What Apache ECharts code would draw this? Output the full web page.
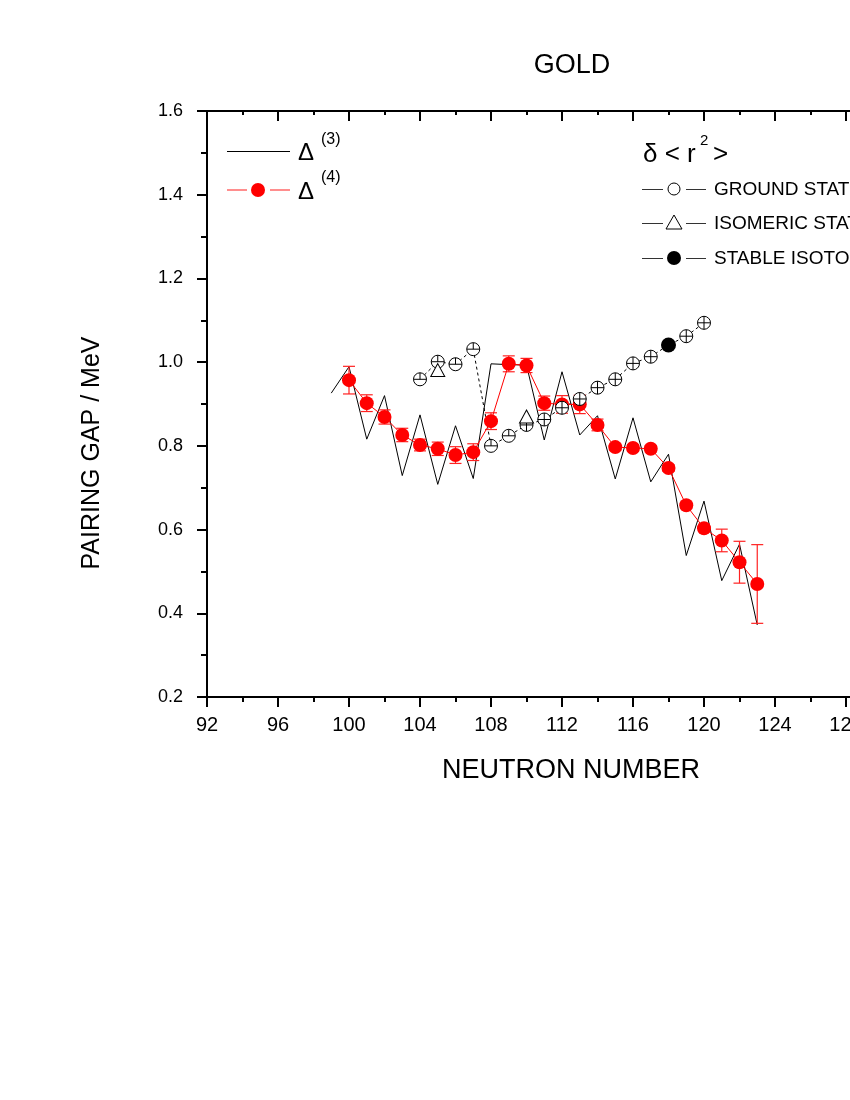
<!DOCTYPE html>
<html><head><meta charset="utf-8">
<script src="https://cdn.jsdelivr.net/npm/echarts@6/dist/echarts.min.js"></script>
<style>html,body{margin:0;padding:0;overflow:hidden;background:#fff;width:850px;height:1100px}#c{width:1000px;height:1100px}</style>
</head><body><div id="c"></div>
<script>
// ---- data ----
const delta3N = [99,100,101,102,103,104,105,106,107,108,109,110,111,112,113,114,115,116,117,118,119,120,121,122,123];
const delta3  = [0.926,0.989,0.816,0.920,0.729,0.874,0.708,0.848,0.722,0.996,0.994,0.993,0.814,0.977,0.826,0.872,0.721,0.867,0.714,0.780,0.538,0.668,0.478,0.565,0.372];
const delta4N = [100,101,102,103,104,105,106,107,108,109,110,111,112,113,114,115,116,117,118,119,120,121,122,123];
const delta4  = [0.957,0.902,0.869,0.826,0.802,0.793,0.778,0.785,0.859,0.996,0.992,0.902,0.899,0.899,0.850,0.797,0.795,0.793,0.747,0.658,0.603,0.574,0.522,0.470];
const delta4Err = [0.033,0.020,0.017,0.016,0.014,0.016,0.020,0.020,0.020,0.019,0.017,0.017,0.021,0.022,0.014,0.008,0.008,0.008,0.008,0.008,0.008,0.027,0.050,0.094];
const gsN   = [104,105,106,107,108,109,110,111,112,113,114,115,116,117,118,119,120];
const gsVal = [0.959,1.001,0.995,1.031,0.800,0.824,0.850,0.863,0.891,0.912,0.939,0.959,0.997,1.013,1.041,1.062,1.094];
const isoN   = [105,110];
const isoVal = [0.981,0.870];
const stableN   = [118];
const stableVal = [1.041];
const xTickMin = 92, xTickMax = 132, xTickStep = 4;
const yTickMin = 0.2, yTickMax = 1.6, yTickStep = 0.2;

const FONT = 'Liberation Sans, Arial, sans-serif';
const chart = echarts.init(document.getElementById('c'), null, {renderer:'canvas'});

const axisCommon = {
  type:'value', min:xTickMin, max:xTickMax, interval:xTickStep,
  axisLine:{show:true, onZero:false, lineStyle:{color:'#000', width:2}},
  splitLine:{show:false}, minorSplitLine:{show:false}
};

const gsMarkers = gsN.map((n,i)=>[n,gsVal[i]]).filter(d=>stableN.indexOf(d[0])<0);

const option = {
  animation:false,
  backgroundColor:'#fff',
  grid:{left:207, top:111, width:710, height:586, containLabel:false},
  xAxis:[
    Object.assign({}, axisCommon, {position:'bottom',
      axisTick:{show:true, inside:false, length:10, lineStyle:{color:'#000', width:2}},
      minorTick:{show:true, splitNumber:2, length:5, lineStyle:{color:'#000', width:2}},
      axisLabel:{show:true, color:'#000', fontSize:20, fontFamily:FONT, margin:18}}),
    Object.assign({}, axisCommon, {position:'top',
      axisTick:{show:true, inside:true, length:10, lineStyle:{color:'#000', width:2}},
      minorTick:{show:true, splitNumber:2, length:4, lineStyle:{color:'#000', width:2}},
      axisLabel:{show:false}})
  ],
  yAxis:[
    {type:'value', min:yTickMin, max:yTickMax, interval:yTickStep, position:'left',
     axisLine:{show:true, onZero:false, lineStyle:{color:'#000', width:2}},
     axisTick:{show:true, inside:false, length:10, lineStyle:{color:'#000', width:2}},
     minorTick:{show:true, splitNumber:2, length:6, lineStyle:{color:'#000', width:2}},
     splitLine:{show:false},
     axisLabel:{color:'#000', fontSize:18, fontFamily:FONT, margin:24, formatter:v=>v.toFixed(1)}},
    {type:'value', min:yTickMin, max:yTickMax, interval:yTickStep, position:'right',
     axisLine:{show:true, onZero:false, lineStyle:{color:'#000', width:2}},
     axisTick:{show:true, inside:true, length:10, lineStyle:{color:'#000', width:2}},
     splitLine:{show:false}, axisLabel:{show:false}}
  ],
  series:[
    {type:'line', name:'gsline', data:gsN.map((n,i)=>[n,gsVal[i]]), symbol:'none',
     lineStyle:{color:'#000', width:1, type:[3,3]}, z:2},
    {type:'line', name:'d3', data:delta3N.map((n,i)=>[n,delta3[i]]), symbol:'none',
     lineStyle:{color:'#000', width:1}, z:3},
    {type:'custom', name:'d4err', z:4,
     data:delta4N.map((n,i)=>[n,delta4[i],delta4Err[i]]),
     renderItem:function(params, api){
       const x=api.value(0), y=api.value(1), e=api.value(2);
       const t=api.coord([x,y+e]), b=api.coord([x,y-e]);
       const st={stroke:'#f22', lineWidth:1.2};
       return {type:'group', children:[
         {type:'line', shape:{x1:t[0],y1:t[1],x2:b[0],y2:b[1]}, style:st},
         {type:'line', shape:{x1:t[0]-6,y1:t[1],x2:t[0]+6,y2:t[1]}, style:st},
         {type:'line', shape:{x1:b[0]-6,y1:b[1],x2:b[0]+6,y2:b[1]}, style:st}
       ]};
     }},
    {type:'line', name:'d4', data:delta4N.map((n,i)=>[n,delta4[i]]), symbol:'circle', symbolSize:14,
     itemStyle:{color:'#f00', opacity:1}, lineStyle:{color:'#f00', width:1}, z:5},
    {type:'custom', name:'gs', z:6, data:gsMarkers,
     renderItem:function(params, api){
       const x=api.value(0);
       const p=api.coord([x, api.value(1)]);
       const r=6.5;
       const st={stroke:'#000', lineWidth:1, fill:null};
       const vTop = p[1]-r, vBot = x>=110 ? p[1]+r : p[1];
       return {type:'group', children:[
         {type:'circle', shape:{cx:p[0], cy:p[1], r:r}, style:{fill:'#fff', stroke:'#000', lineWidth:1}},
         {type:'line', shape:{x1:p[0]-r,y1:p[1],x2:p[0]+r,y2:p[1]}, style:st},
         {type:'line', shape:{x1:p[0],y1:vTop,x2:p[0],y2:vBot}, style:st}
       ]};
     }},
    {type:'scatter', name:'iso', data:isoN.map((n,i)=>[n,isoVal[i]]), symbol:'triangle', symbolSize:[14,13],
     itemStyle:{color:'#fff', borderColor:'#000', borderWidth:1, opacity:1}, z:7},
    {type:'scatter', name:'stable', data:stableN.map((n,i)=>[n,stableVal[i]]), symbol:'circle', symbolSize:15,
     itemStyle:{color:'#000', opacity:1}, z:7}
  ],
  graphic:[
    {type:'text', x:572, y:66, style:{text:'GOLD', font:'27px '+FONT, fill:'#000', textAlign:'center', textVerticalAlign:'middle'}},
    {type:'text', x:571, y:771, style:{text:'NEUTRON NUMBER', font:'27px '+FONT, fill:'#000', textAlign:'center', textVerticalAlign:'middle'}},
    {type:'text', x:92, y:453, rotation:Math.PI/2, style:{text:'PAIRING GAP / MeV', font:'25px '+FONT, fill:'#000', textAlign:'center', textVerticalAlign:'middle'}},
    // left legend
    {type:'line', shape:{x1:227,y1:151.5,x2:290,y2:151.5}, style:{stroke:'#000', lineWidth:1}},
    {type:'text', x:298, y:153, style:{text:'Δ', font:'24px '+FONT, fill:'#000', textVerticalAlign:'middle'}},
    {type:'text', x:321, y:140, style:{text:'(3)', font:'16px '+FONT, fill:'#000', textVerticalAlign:'middle'}},
    {type:'line', shape:{x1:227,y1:190,x2:247,y2:190}, style:{stroke:'#f44', lineWidth:1.2}},
    {type:'line', shape:{x1:270,y1:190,x2:290,y2:190}, style:{stroke:'#f44', lineWidth:1.2}},
    {type:'circle', shape:{cx:258,cy:190,r:7}, style:{fill:'#f00'}},
    {type:'text', x:298, y:192, style:{text:'Δ', font:'24px '+FONT, fill:'#000', textVerticalAlign:'middle'}},
    {type:'text', x:321, y:178, style:{text:'(4)', font:'16px '+FONT, fill:'#000', textVerticalAlign:'middle'}},
    // right legend
    {type:'text', x:643, y:155, style:{text:'δ < r', font:'26px '+FONT, fill:'#000', textVerticalAlign:'middle'}},
    {type:'text', x:700, y:141, style:{text:'2', font:'15px '+FONT, fill:'#000', textVerticalAlign:'middle'}},
    {type:'text', x:713, y:155, style:{text:'>', font:'26px '+FONT, fill:'#000', textVerticalAlign:'middle'}},
    {type:'line', shape:{x1:642,y1:189.5,x2:663,y2:189.5}, style:{stroke:'#333', lineWidth:1}},
    {type:'circle', shape:{cx:674,cy:189,r:6}, style:{fill:'#fff', stroke:'#000', lineWidth:1}},
    {type:'line', shape:{x1:686,y1:189.5,x2:706,y2:189.5}, style:{stroke:'#333', lineWidth:1}},
    {type:'text', x:714, y:190, style:{text:'GROUND STATE', font:'19px '+FONT, fill:'#000', textVerticalAlign:'middle'}},
    {type:'line', shape:{x1:642,y1:223.5,x2:663,y2:223.5}, style:{stroke:'#333', lineWidth:1}},
    {type:'polygon', shape:{points:[[674,215],[666,229],[682,229]]}, style:{fill:'#fff', stroke:'#000', lineWidth:1}},
    {type:'line', shape:{x1:686,y1:223.5,x2:706,y2:223.5}, style:{stroke:'#333', lineWidth:1}},
    {type:'text', x:714, y:224, style:{text:'ISOMERIC STATE', font:'19px '+FONT, fill:'#000', textVerticalAlign:'middle'}},
    {type:'line', shape:{x1:642,y1:258.5,x2:663,y2:258.5}, style:{stroke:'#333', lineWidth:1}},
    {type:'circle', shape:{cx:674,cy:258,r:7}, style:{fill:'#000'}},
    {type:'line', shape:{x1:686,y1:258.5,x2:706,y2:258.5}, style:{stroke:'#333', lineWidth:1}},
    {type:'text', x:714, y:259, style:{text:'STABLE ISOTOPE', font:'19px '+FONT, fill:'#000', textVerticalAlign:'middle'}}
  ]
};
chart.setOption(option);
</script>
</body></html>
